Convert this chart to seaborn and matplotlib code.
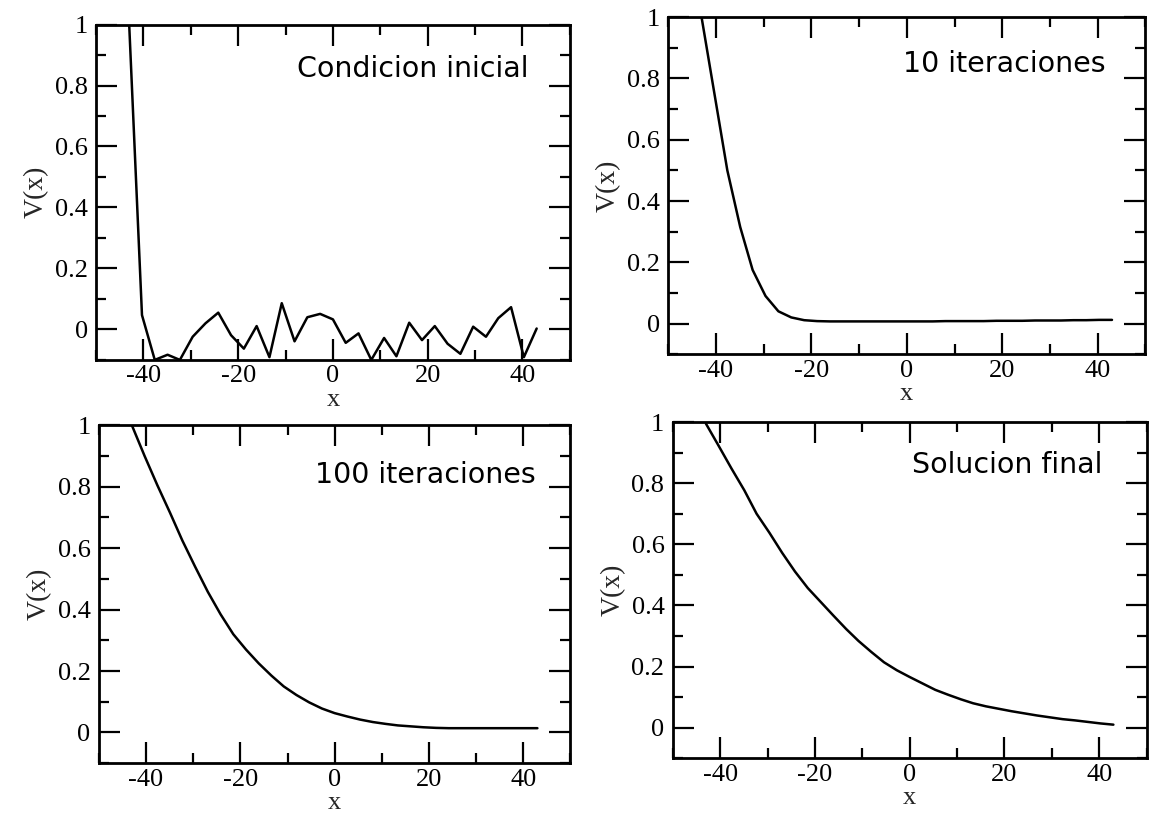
import numpy as np
import pandas as pd
import matplotlib
matplotlib.use("Agg")
import matplotlib.pyplot as plt
import seaborn as sns
from matplotlib.ticker import MultipleLocator, FixedLocator, FixedFormatter

# ---- data ----
x_grid = [-43.0, -40.3, -37.6, -34.9, -32.3, -29.6, -26.9, -24.2, -21.5, -18.8,
          -16.1, -13.4, -10.8, -8.1, -5.4, -2.7, 0.0, 2.7, 5.4, 8.1,
          10.8, 13.4, 16.1, 18.8, 21.5, 24.2, 26.9, 29.6, 32.3, 34.9,
          37.6, 40.3, 43.0]

v_inicial = [1.0, 0.047, -0.1, -0.083, -0.1, -0.024, 0.02, 0.055, -0.019, -0.063,
             0.011, -0.091, 0.086, -0.039, 0.04, 0.051, 0.033, -0.044, -0.013, -0.1,
             -0.028, -0.088, 0.022, -0.035, 0.011, -0.047, -0.08, 0.009, -0.024, 0.037,
             0.073, -0.091, 0.003]

v_10 = [1.0, 0.75, 0.5, 0.315, 0.175, 0.09, 0.04, 0.02, 0.011, 0.008,
        0.007, 0.007, 0.007, 0.007, 0.007, 0.007, 0.007, 0.007, 0.007, 0.008,
        0.008, 0.008, 0.008, 0.009, 0.009, 0.009, 0.010, 0.010, 0.010, 0.011,
        0.011, 0.012, 0.012]

v_100 = [1.0, 0.90, 0.805, 0.715, 0.625, 0.54, 0.458, 0.385, 0.32, 0.27,
         0.225, 0.185, 0.15, 0.122, 0.098, 0.078, 0.063, 0.052, 0.042, 0.034,
         0.028, 0.023, 0.02, 0.017, 0.015, 0.014, 0.014, 0.014, 0.014, 0.014,
         0.014, 0.014, 0.014]

v_final = [0.995, 0.922, 0.848, 0.777, 0.70, 0.638, 0.572, 0.511, 0.457, 0.412,
           0.367, 0.323, 0.284, 0.248, 0.214, 0.188, 0.166, 0.145, 0.124, 0.108,
           0.093, 0.08, 0.07, 0.062, 0.054, 0.047, 0.04, 0.034, 0.028, 0.024,
           0.019, 0.014, 0.01]

titles = ["Condicion inicial", "10 iteraciones", "100 iteraciones", "Solucion final"]
series = [v_inicial, v_10, v_100, v_final]

x_ticks = [-40, -20, 0, 20, 40]
x_tick_labels = ["-40", "-20", "0", "20", "40"]
y_ticks = [0, 0.2, 0.4, 0.6, 0.8, 1]
y_tick_labels = ["0", "0.2", "0.4", "0.6", "0.8", "1"]

# ---- style ----
sns.set_theme(style="ticks")
plt.rcParams["font.family"] = ["Liberation Serif", "DejaVu Serif"]

fig = plt.figure(figsize=(11.5, 8.18), dpi=100)
fig.patch.set_facecolor("white")

# axes rectangles [left, bottom, width, height]
rects = [
    [0.0835, 0.560, 0.412, 0.410],
    [0.581, 0.567, 0.415, 0.412],
    [0.086, 0.067, 0.410, 0.413],
    [0.585, 0.073, 0.412, 0.411],
]
text_pos = [(0.913, 0.845), (0.916, 0.837), (0.926, 0.828), (0.906, 0.848)]

for rect, vals, title, tp in zip(rects, series, titles, text_pos):
    ax = fig.add_axes(rect)
    ax.set_facecolor("white")
    df = pd.DataFrame({"x": x_grid, "V": vals})
    sns.lineplot(data=df, x="x", y="V", ax=ax, color="black", linewidth=1.8,
                 estimator=None, sort=False)
    ax.set_xlim(-50, 50)
    ax.set_ylim(-0.1, 1.0)
    ax.xaxis.set_major_locator(FixedLocator(x_ticks))
    ax.xaxis.set_major_formatter(FixedFormatter(x_tick_labels))
    ax.xaxis.set_minor_locator(MultipleLocator(10))
    ax.yaxis.set_major_locator(FixedLocator(y_ticks))
    ax.yaxis.set_major_formatter(FixedFormatter(y_tick_labels))
    ax.yaxis.set_minor_locator(MultipleLocator(0.1))
    ax.tick_params(which="both", direction="in", top=True, right=True,
                   colors="black", labelsize=19)
    ax.tick_params(which="major", length=15, width=1.6)
    ax.tick_params(which="minor", length=7.5, width=1.6)
    ax.tick_params(axis="x", which="major", pad=4)
    ax.tick_params(axis="y", which="major", pad=6)
    for s in ax.spines.values():
        s.set_visible(True)
        s.set_color("black")
        s.set_linewidth(2.0)
    ax.set_xlabel("x", fontsize=19, labelpad=1)
    ax.set_ylabel("V(x)", fontsize=20, labelpad=4)
    ax.text(tp[0], tp[1], title, transform=ax.transAxes, ha="right", va="baseline",
            fontsize=20.5, family=["DejaVu Sans"], color="black")

fig.savefig("out.png", dpi=100, facecolor="white")
